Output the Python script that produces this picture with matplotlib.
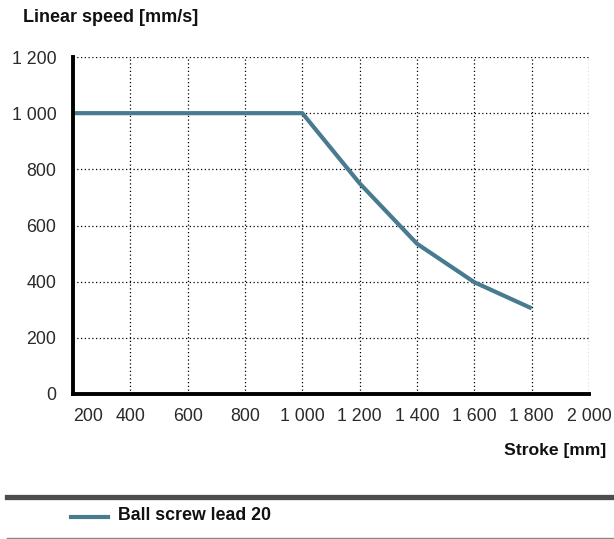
import matplotlib
matplotlib.use("Agg")
import matplotlib.pyplot as plt
from matplotlib.ticker import FuncFormatter
from matplotlib.lines import Line2D

plt.rcParams['font.family'] = ['Liberation Sans', 'DejaVu Sans']

stroke = [200, 1000, 1200, 1400, 1600, 1800]
speed = [1000, 1000, 750, 535, 398, 305]
series_name = "Ball screw lead 20"
x_ticks = [200, 400, 600, 800, 1000, 1200, 1400, 1600, 1800, 2000]
y_ticks = [0, 200, 400, 600, 800, 1000, 1200]
line_color = '#487a90'

W, H = 614, 539
fig = plt.figure(figsize=(W/100, H/100), dpi=100)
ax = fig.add_axes([73/W, 1-394/H, (589-73)/W, (394-57)/H])

ax.plot(stroke, speed, color=line_color, lw=3, solid_capstyle='butt', zorder=3, clip_on=False)
ax.set_xlim(200, 2000)
ax.set_ylim(0, 1200)
ax.set_xticks(x_ticks)
ax.set_yticks(y_ticks)
fmt = FuncFormatter(lambda v, p: f"{int(v):,}".replace(",", " "))
ax.xaxis.set_major_formatter(fmt)
ax.yaxis.set_major_formatter(fmt)
ax.tick_params(axis='both', length=0, labelsize=12.8, colors='#2a2a2a')
ax.tick_params(axis='x', pad=10)
ax.tick_params(axis='y', pad=12)
for lab in ax.get_xticklabels():
    if lab.get_text() == '200':
        lab.set_horizontalalignment('left')
ax.grid(True, color='black', linestyle=(0, (1, 2)), lw=0.9)
for s in ['top', 'right']:
    ax.spines[s].set_visible(False)
for s in ['left', 'bottom']:
    ax.spines[s].set_linewidth(2.8)
    ax.spines[s].set_color('black')
    ax.spines[s].set_zorder(4)

fig.text(23/W, 1-17/H, "Linear speed [mm/s]", fontsize=13, fontweight='bold', va='center', ha='left', color='#111111')
fig.text(606/W, 1-450/H, "Stroke [mm]", fontsize=12.6, fontweight='bold', va='center', ha='right', color='#111111')

fig.add_artist(Line2D([7/W, 1], [1-496.5/H, 1-496.5/H], color='#4d4d4d', lw=3.8))
fig.add_artist(Line2D([7/W, 1], [1-537.5/H, 1-537.5/H], color='#888888', lw=1))
fig.add_artist(Line2D([71/W, 108/W], [1-517/H, 1-517/H], color=line_color, lw=3))
fig.text(118/W, 1-516/H, series_name, fontsize=12.8, fontweight='bold', va='center', ha='left', color='#111111')

fig.savefig("out.png", dpi=100)
